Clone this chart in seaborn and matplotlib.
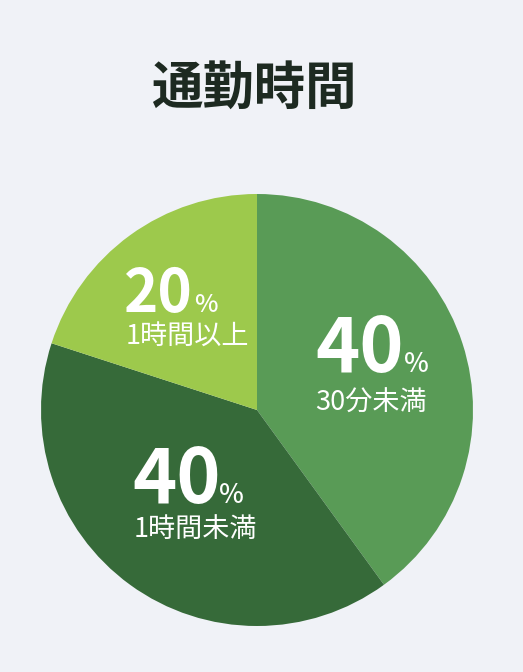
import matplotlib
matplotlib.use("Agg")
import matplotlib.pyplot as plt
import seaborn as sns

# Data
categories = ["30分未満", "1時間未満", "1時間以上"]
values = [40, 40, 20]
pct_labels = ["40", "40", "20"]
title = "通勤時間"

sns.set_theme(style="white")
plt.rcParams["font.family"] = ["Noto Sans CJK JP", "DejaVu Sans"]

bg = "#f0f2f7"
colors = ["#599b56", "#366a39", "#9dc94c"]

W, H = 523, 672
fig = plt.figure(figsize=(W / 100, H / 100), dpi=100, facecolor=bg)

cx, cy, r = 257, 410, 216
ax = fig.add_axes([(cx - r) / W, (H - cy - r) / H, 2 * r / W, 2 * r / H])
ax.set_facecolor(bg)
ax.pie(values, colors=colors, startangle=90, counterclock=False, radius=1,
       wedgeprops=dict(linewidth=0))
ax.set_xlim(-1, 1)
ax.set_ylim(-1, 1)
ax.set_aspect("equal")
ax.axis("off")

def d(px, py):
    return (px - cx) / r, (cy - py) / r

# label layout: (num left x, baseline y, % left x, sub left x, sub center y, num size, pct size)
layout = [
    (315, 372, 404, 315, 403, 54, 19),
    (132, 503, 219, 134, 529, 54, 19),
    (124, 312, 194, 126, 337, 42, 18),
]
for (nx, by, px, sx, sy, ns, ps), num, cat in zip(layout, pct_labels, categories):
    ax.text(*d(nx, by), num, ha="left", va="baseline", fontsize=ns,
            fontweight="bold", color="white")
    ax.text(*d(px, by), "%", ha="left", va="baseline", fontsize=ps,
            fontweight="medium", color="white")
    ax.text(*d(sx, sy), cat, ha="left", va="center", fontsize=19.5,
            color="white")

fig.text(254 / W, 1 - 88 / H, title, ha="center", va="center",
         fontsize=37, fontweight="bold", color="#1d2a21")

fig.savefig("out.png", dpi=100, facecolor=bg)
